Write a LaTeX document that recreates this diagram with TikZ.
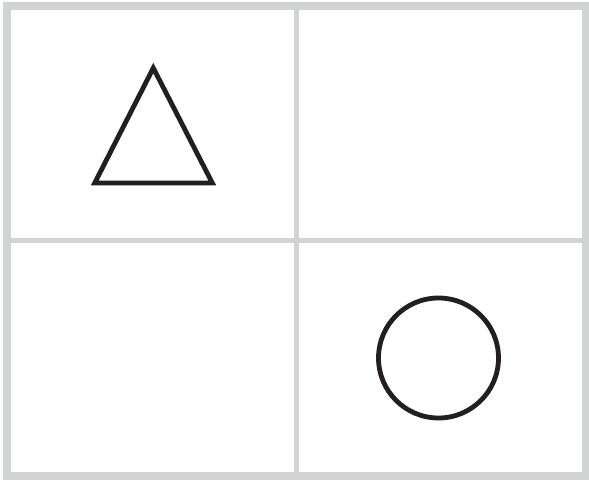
\documentclass[tikz,border=0pt]{standalone}
\definecolor{gridgray}{HTML}{D1D3D4}
\definecolor{inkblack}{HTML}{231F20}
\begin{document}
\begin{tikzpicture}[x=1pt,y=-1pt,
  gridline/.style={draw=gridgray,line width=5.5pt},
  frameline/.style={draw=gridgray,line width=8pt},
  shapeline/.style={draw=inkblack,line width=4.8pt}]
\useasboundingbox (0,0) rectangle (589,481);
\fill[white] (0,0) rectangle (589,481);
\draw[gridline] (296.5,6) -- (296.5,475.5);
\draw[gridline] (7,240.5) -- (586,240.5);
\draw[frameline] (7,6) rectangle (586,475.5);
\draw[shapeline,line join=miter] (153.3,68) -- (212.3,183) -- (94.7,183) -- cycle;
\draw[shapeline] (438.5,358) circle (60);
\end{tikzpicture}
\end{document}
